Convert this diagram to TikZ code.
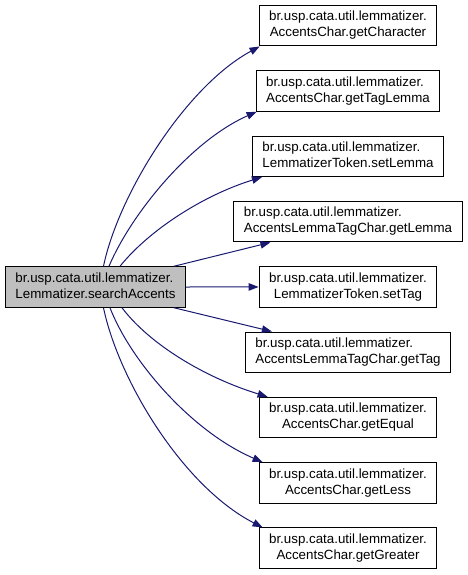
\documentclass[tikz,border=0pt]{standalone}
\usepackage{fontspec}
\setmainfont{Liberation Sans}
\usetikzlibrary{arrows.meta}
\definecolor{edgeblue}{HTML}{191970}
\definecolor{nodegrey}{HTML}{BFBFBF}
\newcommand\dxlabel[2]{\begin{tabular}{@{}c@{}}\multicolumn{1}{@{}l@{}}{#1}\\#2\end{tabular}}
\begin{document}
\begin{tikzpicture}[x=1pt,y=1pt,
  fn/.style={draw=black, line width=1pt, fill=white, rectangle,
    minimum height=40.5pt, inner xsep=10pt, inner ysep=2pt,
    font=\fontsize{13.33}{16}\selectfont},
  src/.style={fn, fill=nodegrey},
  call/.style={draw=edgeblue, line width=1pt,
    -{Triangle[length=10pt,width=7.5pt]}}]
\useasboundingbox (0,0) rectangle (468,-575);
\node[src] (L) at (95.5,-287) {\dxlabel{br.usp.cata.util.lemmatizer.}{Lemmatizer.searchAccents}};
\node[fn] (n1) at (348,-25.75) {\dxlabel{br.usp.cata.util.lemmatizer.}{AccentsChar.getCharacter}};
\node[fn] (n2) at (348,-91.05) {\dxlabel{br.usp.cata.util.lemmatizer.}{AccentsChar.getTagLemma}};
\node[fn] (n3) at (348,-156.35) {\dxlabel{br.usp.cata.util.lemmatizer.}{LemmatizerToken.setLemma}};
\node[fn] (n4) at (348,-221.65) {\dxlabel{br.usp.cata.util.lemmatizer.}{AccentsLemmaTagChar.getLemma}};
\node[fn] (n5) at (348,-286.95) {\dxlabel{br.usp.cata.util.lemmatizer.}{LemmatizerToken.setTag}};
\node[fn] (n6) at (348,-352.25) {\dxlabel{br.usp.cata.util.lemmatizer.}{AccentsLemmaTagChar.getTag}};
\node[fn] (n7) at (348,-417.55) {\dxlabel{br.usp.cata.util.lemmatizer.}{AccentsChar.getEqual}};
\node[fn] (n8) at (348,-482.85) {\dxlabel{br.usp.cata.util.lemmatizer.}{AccentsChar.getLess}};
\node[fn] (n9) at (348,-548.15) {\dxlabel{br.usp.cata.util.lemmatizer.}{AccentsChar.getGreater}};
\draw[call] ([xshift=98.5pt]L.north west) .. controls +(15,72) and +(-74,-40) .. ([xshift=1pt]n1.south west);
\draw[call] ([xshift=104pt]L.north west) .. controls +(22,52) and +(-66,-29) .. ([xshift=1pt]n2.south west);
\draw[call] ([xshift=115pt]L.north west) .. controls +(30,37) and +(-58,-18) .. ([xshift=10pt]n3.south west);
\draw[call] ([xshift=169pt]L.north west) -- ([xshift=37pt]n4.south west);
\draw[call] (L.east) -- (n5.west);
\draw[call] ([xshift=169pt]L.south west) -- ([xshift=27pt]n6.north west);
\draw[call] ([xshift=117pt]L.south west) .. controls +(28,-37) and +(-62,19) .. ([xshift=9pt]n7.north west);
\draw[call] ([xshift=105pt]L.south west) .. controls +(20,-52) and +(-72,31) .. ([xshift=4pt]n8.north west);
\draw[call] ([xshift=98.5pt]L.south west) .. controls +(15,-72) and +(-80,41) .. ([xshift=4pt]n9.north west);
\end{tikzpicture}
\end{document}
